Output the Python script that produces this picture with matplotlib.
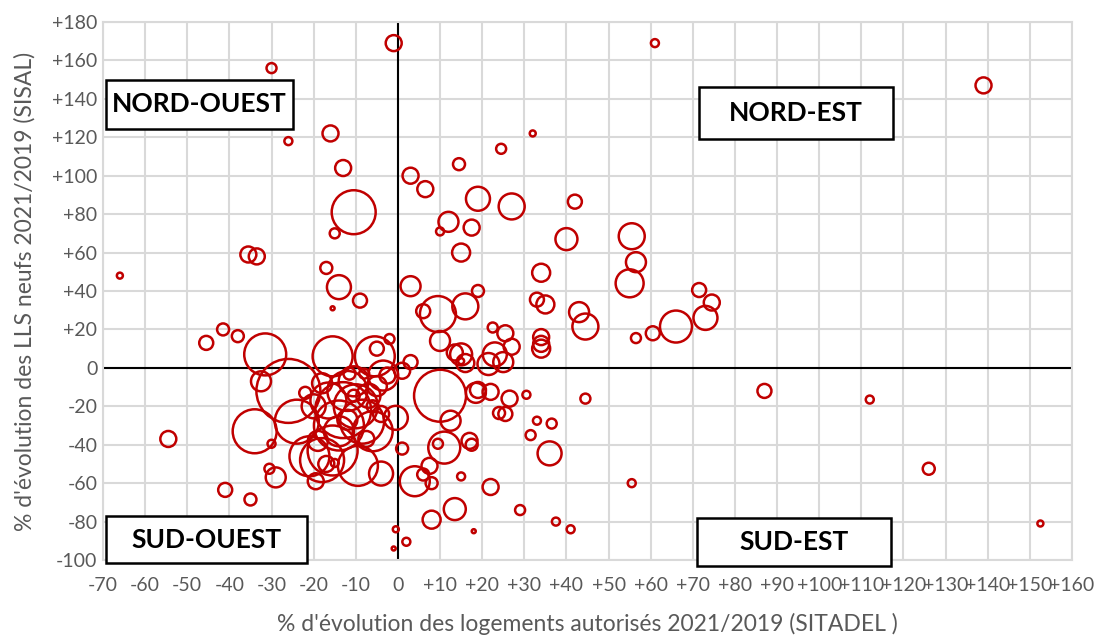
import matplotlib
matplotlib.use("Agg")
import matplotlib.pyplot as plt
from matplotlib.patches import Rectangle

plt.rcParams['font.family'] = ['Lato', 'DejaVu Sans']

# evolution des logements autorises (SITADEL), en %
evol_sitadel = [
    -30, -1, -26, -16, -13, -10.5, -15, -35.5, -33.5, -66, -17, -14, -15.5, -9, -45.5, -41.5, -38,
    61, 139, 32, 24.5, 3, 6.5, 14.5, 19, 27, 42, 12, 10, 17.5, 15, 40, 55.5, 56.5, 55, 34, 3, 19,
    33, 35, 71.5, 74.5, 73, 66, 60.5, 56.5, 43, 44.5, 9.5, 16, 6, 10, 22.5, 25.5, 27, 34, 34, 34,
    13.5, 15, 15, 16, 21.5, 23, 25, 3,
    10, 18.5, 19, 22, 26.5, 30.5, 44.5, 12.5, 24, 25.5, 33, 36.5, 31.5, 11, 9.5, 17, 17.5, 36, 1,
    7.5, 6, 8, 4, 15, 22, 13.5, 8, 29, 37.5, 41, 18, 55.5, -0.5, 2, -1, 87, 112, 126, 152.5,
    -31.5, -32.5, -34, -30, -30.5, -29, -41, -35, -54.5,
    -26, -24, -21, -15.5, -13, -15.5, -5.5, -9.5, -8.5, -12, -16.5, -10.5, -7, -5, -2.5, -14, -19,
    -17, -4, -0.5, -4, -19.5, -15, -10.5, -11.5, -8, -3.5, -2, -5, 1, -20, -12, -6, -7.5, -18, -22,
    -14, -10, -6, -18,
]

# evolution des LLS neufs (SISAL), en %
evol_sisal = [
    156, 169, 118, 122, 104, 81, 70, 59, 58, 48, 52, 42, 31, 35, 13, 20, 16.5,
    169, 147, 122, 114, 100, 93, 106, 88, 84, 86.5, 76, 71, 73, 60, 67, 68.5, 55, 44, 49.5, 42.5, 40,
    35.5, 33, 40.5, 34, 26, 21.5, 18, 15.5, 29, 21.5, 28, 32, 29.5, 14, 21, 18, 11, 16, 12.5, 10,
    8, 7, 3.5, 2.5, 2, 7, 3, 3,
    -14.5, -13, -11.5, -12.5, -16, -14, -16, -27.5, -23.5, -24, -27.5, -29, -35, -41.5, -39.5, -38,
    -40, -44.5, -42, -51, -55.5, -60, -59, -56.5, -62, -73.5, -79, -74, -80, -84, -85, -60, -84,
    -90.5, -94, -12, -16.5, -52.5, -81,
    7, -7, -33, -39.5, -52.5, -57, -63.5, -68.5, -37,
    -12, -28, -46, -43, -22, 6, 6, -51, -28, -12, -17, -7, -14.5, -9.5, -4, -33, -38,
    -50, -24, -26, -55, -59, -49.5, -14.5, -3, -3, -4, 15, 10, -1.5, -20, -27, -20, -37, -8, -13,
    -30, -20, -33, -48,
]

# poids de chaque territoire (taille des bulles)
poids = [
    25, 64, 16, 64, 64, 484, 25, 64, 64, 9, 36, 144, 4, 49, 49, 36, 36,
    16, 64, 9, 25, 64, 64, 36, 144, 169, 49, 100, 16, 64, 81, 121, 169, 100, 196, 81, 100, 36,
    49, 81, 49, 64, 144, 256, 49, 25, 100, 169, 324, 169, 49, 100, 25, 64, 64, 64, 64, 81,
    64, 121, 9, 81, 121, 144, 100, 49,
    676, 100, 64, 64, 64, 16, 25, 100, 36, 49, 16, 25, 25, 256, 25, 64, 36, 144, 36,
    64, 36, 36, 225, 16, 64, 121, 81, 25, 16, 16, 4, 16, 9, 16, 4, 49, 16, 36, 9,
    441, 100, 484, 16, 25, 100, 49, 36, 64,
    1024, 484, 400, 625, 784, 400, 400, 400, 484, 400, 324, 225, 144, 100, 64, 225, 100,
    64, 64, 144, 144, 64, 16, 36, 36, 25, 225, 25, 49, 64, 144, 100, 36, 64, 100, 36,
    625, 484, 400, 484,
]

xticks = list(range(-70, 161, 10))
yticks = list(range(-100, 181, 20))
xlabels = [f"+{v}" if v > 0 else str(v) for v in xticks]
ylabels = [f"+{v}" if v > 0 else str(v) for v in yticks]

gris = "#595959"
rouge = "#c00000"

fig = plt.figure(figsize=(10.97, 6.39), dpi=100)
ax = fig.add_axes([0.0939, 0.1236, 0.8833, 0.842])

ax.scatter(evol_sitadel, evol_sisal, s=[p * 2.07 for p in poids],
           facecolors="none", edgecolors=rouge, linewidths=1.8, zorder=3)

ax.set_xlim(-70, 160)
ax.set_ylim(-100, 180)
ax.set_xticks(xticks)
ax.set_xticklabels(xlabels)
ax.set_yticks(yticks)
ax.set_yticklabels(ylabels)
ax.tick_params(length=0, colors=gris, labelsize=14)
ax.tick_params(axis="x", pad=12)
ax.tick_params(axis="y", pad=4)
ax.grid(True, color="#d9d9d9", linewidth=1.5, zorder=0)
ax.set_axisbelow(True)
for sp in ax.spines.values():
    sp.set_color("#d9d9d9")
    sp.set_linewidth(1.5)

ax.axhline(0, color="black", linewidth=1.5, zorder=2)
ax.axvline(0, color="black", linewidth=1.5, zorder=2)

ax.set_xlabel("% d'évolution des logements autorisés 2021/2019 (SITADEL )",
              color=gris, fontsize=16.5, labelpad=14)
ax.set_ylabel("% d'évolution des LLS neufs 2021/2019 (SISAL)",
              color=gris, fontsize=16.5, labelpad=12)

# cadres des quadrants (en pixels de la figure)
W, H = 1097, 639
cadres = [
    ("NORD-OUEST", 106, 80, 293, 129),
    ("NORD-EST", 699, 87, 893, 139),
    ("SUD-OUEST", 106, 516, 307, 563),
    ("SUD-EST", 697, 518, 891, 566),
]
for nom, x0, y0, x1, y1 in cadres:
    fig.add_artist(Rectangle((x0 / W, 1 - y1 / H), (x1 - x0) / W, (y1 - y0) / H,
                             transform=fig.transFigure, facecolor="white",
                             edgecolor="black", linewidth=1.8, zorder=5))
    fig.text((x0 + x1) / 2 / W, 1 - (y0 + y1) / 2 / H, nom, ha="center", va="center",
             fontsize=19, fontweight="bold", color="black", zorder=6)

fig.savefig("out.png", dpi=100)
